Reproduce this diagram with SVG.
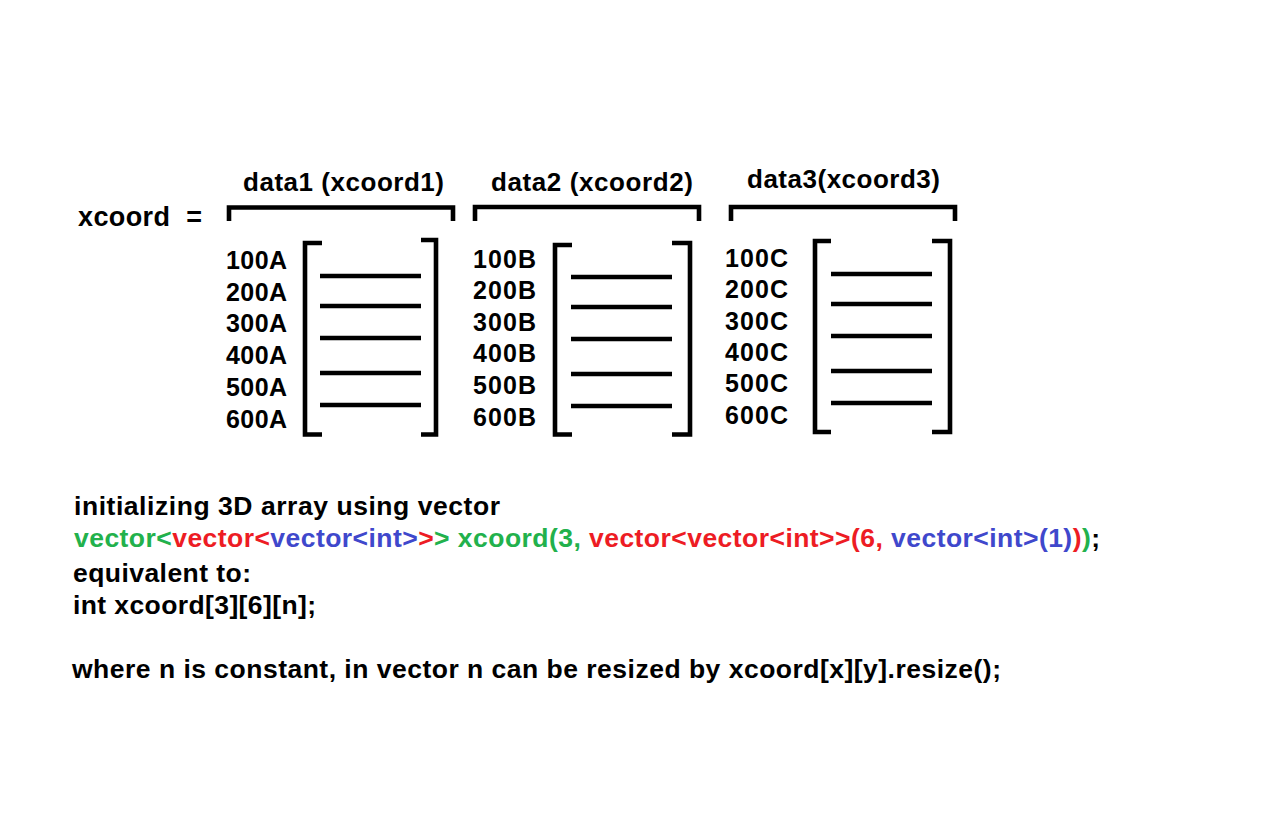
<svg xmlns="http://www.w3.org/2000/svg" width="1280" height="823" viewBox="0 0 1280 823">
<style>
text{font-family:"Liberation Sans",Arial,sans-serif;font-weight:bold;fill:#000}
.lbl{font-size:25px}
.hd{font-size:26px}
.code{font-size:26.5px}
.br{fill:none;stroke:#000;stroke-width:4.6;stroke-linejoin:miter;stroke-linecap:butt}
.ln{stroke:#000;stroke-width:4.3}
.g{fill:#22b14c}.r{fill:#ed1c24}.b{fill:#3f48cc}
</style>
<rect width="1280" height="823" fill="#fff"/>
<text id="xcoord-label" x="78" y="226" font-size="27" textLength="124" lengthAdjust="spacing" xml:space="preserve">xcoord  =</text>

<g id="data1">
<text class="hd" x="243" y="191" textLength="201" lengthAdjust="spacing">data1 (xcoord1)</text>
<path class="br" d="M229,221 V207.5 H453 V221"/>
<path class="br" d="M322,243 H305 V434.5 H322"/>
<path class="br" d="M421,240 H436 V434.5 H421"/>
<g class="ln"><line x1="320" y1="276" x2="421" y2="276"/><line x1="320" y1="306" x2="421" y2="306"/><line x1="320" y1="338" x2="421" y2="338"/><line x1="320" y1="373" x2="421" y2="373"/><line x1="320" y1="405" x2="421" y2="405"/></g>
<g class="lbl">
<text x="226" y="269" textLength="61" lengthAdjust="spacing">100A</text>
<text x="226" y="301" textLength="61" lengthAdjust="spacing">200A</text>
<text x="226" y="332" textLength="61" lengthAdjust="spacing">300A</text>
<text x="226" y="364" textLength="61" lengthAdjust="spacing">400A</text>
<text x="226" y="396" textLength="61" lengthAdjust="spacing">500A</text>
<text x="226" y="428" textLength="61" lengthAdjust="spacing">600A</text>
</g>
</g>

<g id="data2">
<text class="hd" x="491" y="191" textLength="202" lengthAdjust="spacing">data2 (xcoord2)</text>
<path class="br" d="M475,221 V207 H699 V221"/>
<path class="br" d="M572,245 H555 V434.5 H572"/>
<path class="br" d="M672,243 H690 V434.5 H672"/>
<g class="ln"><line x1="571" y1="277" x2="672" y2="277"/><line x1="571" y1="307" x2="672" y2="307"/><line x1="571" y1="339" x2="672" y2="339"/><line x1="571" y1="374" x2="672" y2="374"/><line x1="571" y1="406" x2="672" y2="406"/></g>
<g class="lbl">
<text x="473" y="268" textLength="63" lengthAdjust="spacing">100B</text>
<text x="473" y="299" textLength="63" lengthAdjust="spacing">200B</text>
<text x="473" y="331" textLength="63" lengthAdjust="spacing">300B</text>
<text x="473" y="362" textLength="63" lengthAdjust="spacing">400B</text>
<text x="473" y="394" textLength="63" lengthAdjust="spacing">500B</text>
<text x="473" y="426" textLength="63" lengthAdjust="spacing">600B</text>
</g>
</g>

<g id="data3">
<text class="hd" x="747" y="188" textLength="193" lengthAdjust="spacing">data3(xcoord3)</text>
<path class="br" d="M731,221 V207 H955 V221"/>
<path class="br" d="M831,241 H815 V432 H831"/>
<path class="br" d="M932,241 H950 V432 H932"/>
<g class="ln"><line x1="831" y1="274" x2="932" y2="274"/><line x1="831" y1="304" x2="932" y2="304"/><line x1="831" y1="336" x2="932" y2="336"/><line x1="831" y1="371" x2="932" y2="371"/><line x1="831" y1="403" x2="932" y2="403"/></g>
<g class="lbl">
<text x="725" y="267" textLength="63" lengthAdjust="spacing">100C</text>
<text x="725" y="298" textLength="63" lengthAdjust="spacing">200C</text>
<text x="725" y="330" textLength="63" lengthAdjust="spacing">300C</text>
<text x="725" y="361" textLength="63" lengthAdjust="spacing">400C</text>
<text x="725" y="392" textLength="63" lengthAdjust="spacing">500C</text>
<text x="725" y="424" textLength="63" lengthAdjust="spacing">600C</text>
</g>
</g>

<g id="notes">
<text class="code" x="74" y="515" textLength="426" lengthAdjust="spacing">initializing 3D array using vector</text>
<text class="code" x="74" y="547" textLength="1026" lengthAdjust="spacing" xml:space="preserve"><tspan class="g">vector&lt;</tspan><tspan class="r">vector&lt;</tspan><tspan class="b">vector&lt;int&gt;</tspan><tspan class="r">&gt;</tspan><tspan class="g">&gt; xcoord(3, </tspan><tspan class="r">vector&lt;vector&lt;int&gt;&gt;(6, </tspan><tspan class="b">vector&lt;int&gt;(1)</tspan><tspan class="r">)</tspan><tspan class="g">)</tspan><tspan>;</tspan></text>
<text class="code" x="73" y="582" textLength="178" lengthAdjust="spacing">equivalent to:</text>
<text class="code" x="73" y="614" textLength="243" lengthAdjust="spacing">int xcoord[3][6][n];</text>
<text class="code" x="72" y="678" textLength="929" lengthAdjust="spacing">where n is constant, in vector n can be resized by xcoord[x][y].resize();</text>
</g>
</svg>
